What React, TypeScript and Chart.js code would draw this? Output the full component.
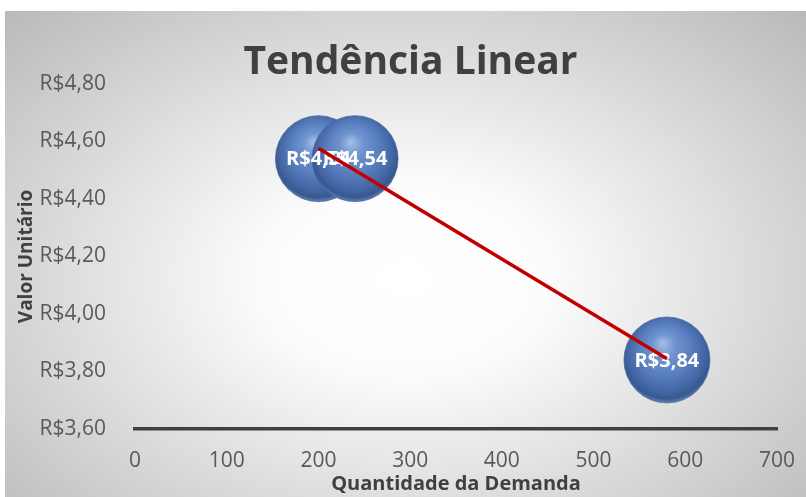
import React, { useEffect, useRef } from 'react';
import { Chart, registerables } from 'chart.js';

Chart.register(...registerables);

// ---- data ----
const demand = [200, 240, 580];
const unitValue = [4.54, 4.54, 3.84];
const xTickValues = [0, 100, 200, 300, 400, 500, 600, 700];
const yTickValues = [3.6, 3.8, 4.0, 4.2, 4.4, 4.6, 4.8];
const chartTitle = 'Tendência Linear';
const xAxisTitle = 'Quantidade da Demanda';
const yAxisTitle = 'Valor Unitário';

const FONT = '"Open Sans", "Noto Sans", sans-serif';
const BUBBLE_R = 43;

function brl(v: number): string {
  return 'R$' + v.toFixed(2).replace('.', ',');
}

function linearFit(xs: number[], ys: number[]) {
  const n = xs.length;
  const mx = xs.reduce((a, b) => a + b, 0) / n;
  const my = ys.reduce((a, b) => a + b, 0) / n;
  let sxy = 0;
  let sxx = 0;
  for (let i = 0; i < n; i++) {
    sxy += (xs[i] - mx) * (ys[i] - my);
    sxx += (xs[i] - mx) * (xs[i] - mx);
  }
  const slope = sxy / sxx;
  const intercept = my - slope * mx;
  return (x: number) => intercept + slope * x;
}

const fit = linearFit(demand, unitValue);
const xMin = Math.min(...demand);
const xMax = Math.max(...demand);
const trendPoints = [
  { x: xMin, y: fit(xMin) },
  { x: xMax, y: fit(xMax) },
];

const bubblePoints = demand.map((x, i) => ({ x, y: unitValue[i] }));

const bubbleLabels = {
  id: 'bubbleLabels',
  afterDatasetDraw(chart: any, args: any) {
    if (args.index !== 0) return;
    const ctx = chart.ctx;
    const meta = chart.getDatasetMeta(0);
    ctx.save();
    ctx.font = `bold 20px ${FONT}`;
    ctx.fillStyle = '#ffffff';
    ctx.textAlign = 'center';
    ctx.textBaseline = 'middle';
    meta.data.forEach((el: any, i: number) => {
      ctx.fillText(brl(unitValue[i]), el.x, el.y + 1);
    });
    ctx.restore();
  },
};

function sphereFill(ctx: any) {
  const chart = ctx.chart;
  if (ctx.type !== 'data' || !ctx.raw) return '#4F81BD';
  const xs = chart.scales && chart.scales.x;
  const ys = chart.scales && chart.scales.y;
  if (!xs || !ys) return '#4F81BD';
  const cx = xs.getPixelForValue(ctx.raw.x);
  const cy = ys.getPixelForValue(ctx.raw.y);
  if (!Number.isFinite(cx) || !Number.isFinite(cy)) return '#4F81BD';
  const r = BUBBLE_R;
  const g = chart.ctx.createRadialGradient(cx - r * 0.1, cy - r * 0.4, 0, cx, cy - r * 0.1, r * 1.1);
  g.addColorStop(0, '#a4bfe8');
  g.addColorStop(0.25, '#7094cf');
  g.addColorStop(0.55, '#587ebf');
  g.addColorStop(0.8, '#4467a5');
  g.addColorStop(0.93, '#37588f');
  g.addColorStop(1, '#6484b6');
  return g;
}

export default function App() {
  const canvasRef = useRef<HTMLCanvasElement | null>(null);

  useEffect(() => {
    if (!canvasRef.current) return;
    const chart = new Chart(canvasRef.current, {
      type: 'bubble',
      data: {
        datasets: [
          {
            type: 'bubble',
            label: 'Valor Unitário',
            data: bubblePoints,
            radius: BUBBLE_R,
            backgroundColor: sphereFill,
            borderColor: 'rgba(70,100,150,0.7)',
            borderWidth: 1,
            order: 1,
          } as any,
          {
            type: 'line',
            label: 'Linear',
            data: trendPoints,
            borderColor: '#C00000',
            borderWidth: 3.5,
            pointRadius: 0,
            fill: false,
            order: 0,
          } as any,
        ],
      },
      options: {
        animation: false,
        responsive: true,
        maintainAspectRatio: false,
        layout: { autoPadding: false, padding: { left: 10, right: 0, top: 0, bottom: 0 } },
        plugins: {
          legend: { display: false },
          tooltip: { enabled: false },
          title: {
            display: true,
            text: chartTitle,
            color: '#404040',
            font: { family: FONT, size: 39, weight: 'bold', lineHeight: 1.1 },
            padding: { top: 30, bottom: 0 },
          },
        },
        scales: {
          x: {
            type: 'linear',
            position: 'bottom',
            min: 0,
            max: 700,
            afterBuildTicks: (s: any) => {
              s.ticks = xTickValues.map((v) => ({ value: v }));
            },
            ticks: {
              color: '#595959',
              font: { family: FONT, size: 21, lineHeight: 3.02 },
              padding: 0,
              callback: (v: any) => String(v),
            },
            grid: { display: false, drawTicks: false },
            border: { display: true, color: '#404040', width: 3.5 },
            title: {
              display: true,
              text: xAxisTitle,
              color: '#404040',
              font: { family: FONT, size: 20, weight: 'bold', lineHeight: 1.2 },
              padding: { top: 0, bottom: 1 },
            },
            afterFit: (s: any) => {
              s.height = 68;
              s.paddingLeft = 0;
              s.paddingRight = 0;
            },
          },
          y: {
            type: 'linear',
            position: 'left',
            min: 3.6,
            max: 4.8,
            afterBuildTicks: (s: any) => {
              s.ticks = yTickValues.map((v) => ({ value: v }));
            },
            ticks: {
              color: '#595959',
              font: { family: FONT, size: 21 },
              padding: 29,
              callback: (v: any) => brl(Number(v)),
            },
            grid: { display: false, drawTicks: false },
            border: { display: false },
            title: {
              display: true,
              text: yAxisTitle,
              color: '#404040',
              font: { family: FONT, size: 19, weight: 'bold', lineHeight: 1.0 },
              padding: { top: 2, bottom: 0 },
            },
            afterFit: (s: any) => {
              s.width = 120;
              s.paddingTop = 0;
              s.paddingBottom = 0;
            },
          },
          y2: {
            type: 'linear',
            position: 'right',
            display: true,
            min: 0,
            max: 1,
            ticks: { display: false },
            grid: { display: false, drawTicks: false },
            border: { display: false },
            afterFit: (s: any) => {
              s.width = 29;
              s.paddingTop = 0;
              s.paddingBottom = 0;
            },
          },
        },
      } as any,
      plugins: [bubbleLabels],
    });
    return () => chart.destroy();
  }, []);

  return (
    <div
      style={{
        position: 'absolute',
        left: 5,
        top: 11,
        width: 801,
        height: 486,
        background:
          'radial-gradient(ellipse farthest-corner at 50% 55%, #ffffff 0%, #fcfcfc 25%, #b9b9b9 100%)',
      }}
    >
      <canvas ref={canvasRef} />
    </div>
  );
}
